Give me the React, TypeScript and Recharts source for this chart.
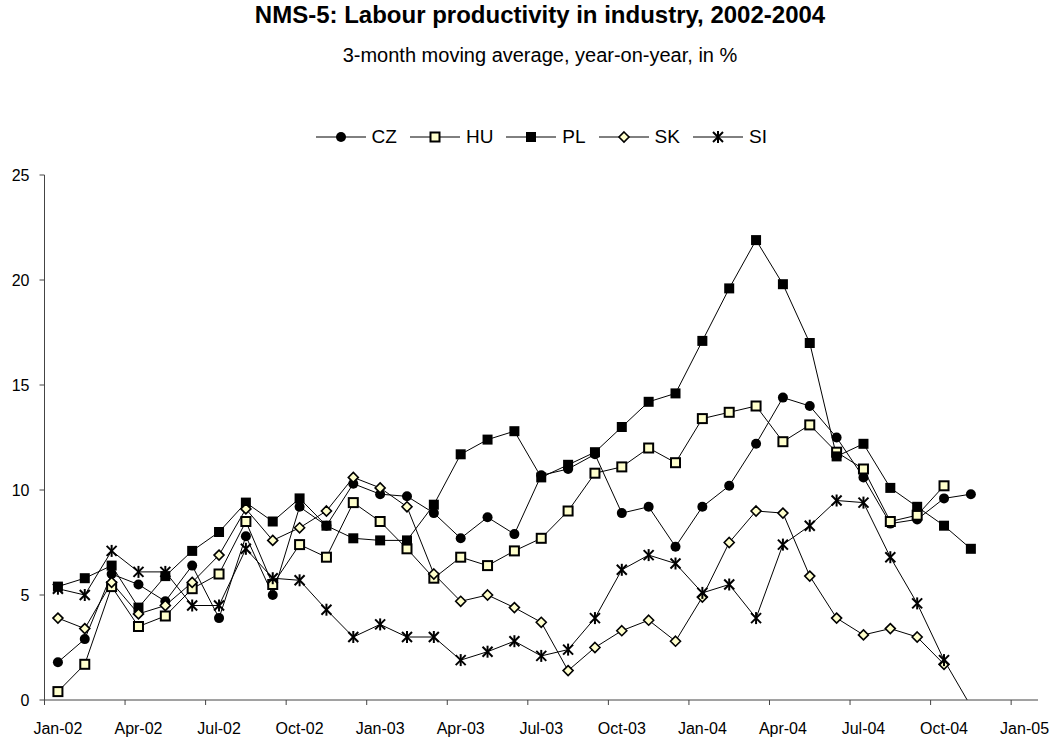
import React from "react";
import { LineChart, Line, XAxis, YAxis } from "recharts";

const months = [
  "Jan-02", "Feb-02", "Mar-02", "Apr-02", "May-02", "Jun-02", "Jul-02", "Aug-02", "Sep-02", "Oct-02", "Nov-02", "Dec-02",
  "Jan-03", "Feb-03", "Mar-03", "Apr-03", "May-03", "Jun-03", "Jul-03", "Aug-03", "Sep-03", "Oct-03", "Nov-03", "Dec-03",
  "Jan-04", "Feb-04", "Mar-04", "Apr-04", "May-04", "Jun-04", "Jul-04", "Aug-04", "Sep-04", "Oct-04", "Nov-04",
];
const tickLabels = ["Jan-02", "Apr-02", "Jul-02", "Oct-02", "Jan-03", "Apr-03", "Jul-03", "Oct-03", "Jan-04", "Apr-04", "Jul-04", "Oct-04", "Jan-05"];
const yTicks = [0, 5, 10, 15, 20, 25];

const cz = [1.8, 2.9, 6.0, 5.5, 4.7, 6.4, 3.9, 7.8, 5.0, 9.2, 8.3, 10.3, 9.8, 9.7, 8.9, 7.7, 8.7, 7.9, 10.7, 11.0, 11.7, 8.9, 9.2, 7.3, 9.2, 10.2, 12.2, 14.4, 14.0, 12.5, 10.6, 8.4, 8.6, 9.6, 9.8];
const hu = [0.4, 1.7, 5.4, 3.5, 4.0, 5.3, 6.0, 8.5, 5.5, 7.4, 6.8, 9.4, 8.5, 7.2, 5.8, 6.8, 6.4, 7.1, 7.7, 9.0, 10.8, 11.1, 12.0, 11.3, 13.4, 13.7, 14.0, 12.3, 13.1, 11.8, 11.0, 8.5, 8.8, 10.2, null];
const pl = [5.4, 5.8, 6.4, 4.4, 5.9, 7.1, 8.0, 9.4, 8.5, 9.6, 8.3, 7.7, 7.6, 7.6, 9.3, 11.7, 12.4, 12.8, 10.6, 11.2, 11.8, 13.0, 14.2, 14.6, 17.1, 19.6, 21.9, 19.8, 17.0, 11.6, 12.2, 10.1, 9.2, 8.3, 7.2];
const sk = [3.9, 3.4, 5.6, 4.1, 4.5, 5.6, 6.9, 9.1, 7.6, 8.2, 9.0, 10.6, 10.1, 9.2, 6.0, 4.7, 5.0, 4.4, 3.7, 1.4, 2.5, 3.3, 3.8, 2.8, 4.9, 7.5, 9.0, 8.9, 5.9, 3.9, 3.1, 3.4, 3.0, 1.7, null];
const si = [5.3, 5.0, 7.1, 6.1, 6.1, 4.5, 4.5, 7.2, 5.8, 5.7, 4.3, 3.0, 3.6, 3.0, 3.0, 1.9, 2.3, 2.8, 2.1, 2.4, 3.9, 6.2, 6.9, 6.5, 5.1, 5.5, 3.9, 7.4, 8.3, 9.5, 9.4, 6.8, 4.6, 1.9, -0.3];

// points sit in the middle of their month, ticks mark the month start
const data = months.map((m, i) => ({ t: i + 0.5, month: m, CZ: cz[i], HU: hu[i], PL: pl[i], SK: sk[i], SI: si[i] }));

const FONT = '"Liberation Sans", Arial, sans-serif';
const CREAM = "#FFFFCC";
const W = 1055;
const H = 747;
const margin = { top: 175, right: 17, bottom: 7, left: 0 };
const plotLeft = 44.5;
const plotRight = W - margin.right;
const halfMonth = (plotRight - plotLeft) / 37 / 2;

type Shape = "circle" | "hu" | "pl" | "sk" | "si";

function Marker({ shape, cx, cy }: { shape: Shape; cx: number; cy: number }) {
  if (shape === "circle") return <circle cx={cx} cy={cy} r={5} fill="#000" />;
  if (shape === "pl") return <rect x={cx - 5} y={cy - 5} width={10} height={10} fill="#000" />;
  if (shape === "hu") return <rect x={cx - 4.5} y={cy - 4.5} width={9} height={9} fill={CREAM} stroke="#000" strokeWidth={2} />;
  if (shape === "sk")
    return <path d={`M${cx},${cy - 5}L${cx + 5},${cy}L${cx},${cy + 5}L${cx - 5},${cy}Z`} fill={CREAM} stroke="#000" strokeWidth={1.6} />;
  return (
    <g stroke="#000" strokeWidth={2}>
      <line x1={cx - 5} y1={cy - 5} x2={cx + 5} y2={cy + 5} />
      <line x1={cx - 5} y1={cy + 5} x2={cx + 5} y2={cy - 5} />
      <line x1={cx} y1={cy - 6} x2={cx} y2={cy + 6} />
    </g>
  );
}

const dotFor = (shape: Shape) => (props: any) => {
  const { cx, cy, value, index } = props;
  if (cx == null || cy == null || value == null || value < 0) return <g key={`${shape}-${index}`} />;
  return <Marker key={`${shape}-${index}`} shape={shape} cx={cx} cy={cy} />;
};

const series: { key: string; shape: Shape }[] = [
  { key: "CZ", shape: "circle" },
  { key: "HU", shape: "hu" },
  { key: "PL", shape: "pl" },
  { key: "SK", shape: "sk" },
  { key: "SI", shape: "si" },
];

function MonthTick({ x, y, payload }: any) {
  return (
    <text x={x + halfMonth} y={y + 29} textAnchor="middle" fontSize={16} fontFamily={FONT} fill="#000">
      {tickLabels[Math.round(payload.value / 3)]}
    </text>
  );
}

function LegendRow() {
  return (
    <div
      style={{
        position: "absolute", top: 127, left: plotLeft, width: plotRight - plotLeft,
        display: "flex", justifyContent: "center", gap: 13, fontSize: 19, color: "#000",
      }}
    >
      {series.map((s) => (
        <div key={s.key} style={{ display: "flex", alignItems: "center" }}>
          <svg width={50} height={20} style={{ marginRight: 6 }}>
            <line x1={0} y1={10} x2={50} y2={10} stroke="#000" strokeWidth={1} />
            <Marker shape={s.shape} cx={25} cy={10} />
          </svg>
          <span style={{ lineHeight: "20px" }}>{s.key}</span>
        </div>
      ))}
    </div>
  );
}

export default function App() {
  return (
    <div style={{ position: "absolute", left: 0, top: 0, width: W, height: H, background: "#fff", fontFamily: FONT }}>
      <div style={{ position: "absolute", left: 40, width: 1000, top: 3, textAlign: "center", fontSize: 24, lineHeight: "24px", fontWeight: "bold" }}>
        NMS-5: Labour productivity in industry, 2002-2004
      </div>
      <div style={{ position: "absolute", left: 40, width: 1000, top: 45, textAlign: "center", fontSize: 20, lineHeight: "20px" }}>
        3-month moving average, year-on-year, in %
      </div>
      <LegendRow />
      <div style={{ position: "absolute", left: 0, top: 0 }}>
        <LineChart width={W} height={H} data={data} margin={margin}>
          <XAxis
            dataKey="t"
            type="number"
            domain={[0, 37]}
            ticks={[0, 3, 6, 9, 12, 15, 18, 21, 24, 27, 30, 33, 36]}
            interval={0}
            height={40}
            tickSize={5}
            tickMargin={0}
            stroke="#444"
            tick={<MonthTick />}
          />
          <YAxis
            type="number"
            domain={[0, 25]}
            ticks={yTicks}
            allowDataOverflow
            width={plotLeft}
            tickSize={5}
            tickMargin={10}
            stroke="#444"
            tick={{ fontSize: 16, fill: "#000", fontFamily: FONT }}
          />
          {series.map((s) => (
            <Line
              key={s.key}
              dataKey={s.key}
              type="linear"
              stroke="#000"
              strokeWidth={1}
              dot={dotFor(s.shape)}
              activeDot={false}
              isAnimationActive={false}
              connectNulls={false}
            />
          ))}
        </LineChart>
      </div>
    </div>
  );
}
